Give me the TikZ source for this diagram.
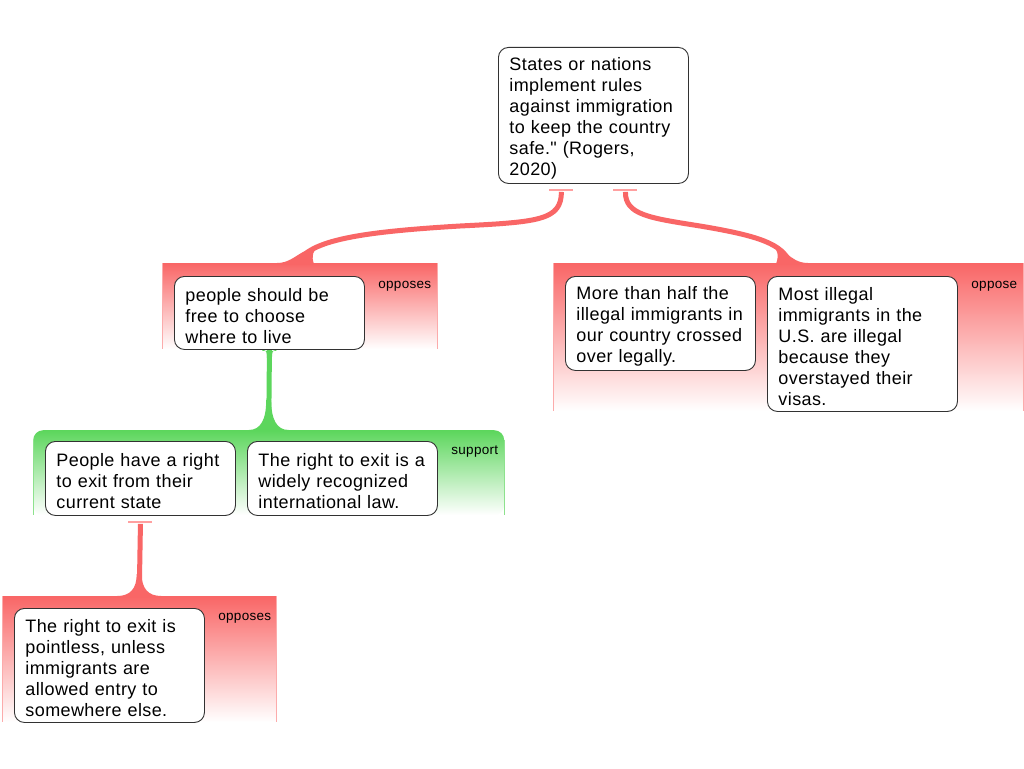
\documentclass[tikz,border=0pt]{standalone}
\usepackage{fontspec}
\setmainfont{Liberation Sans}[LetterSpace=2.2, Ligatures=TeXOff]
\usetikzlibrary{calc}
\pgfdeclarelayer{bg}
\pgfdeclarelayer{con}
\pgfsetlayers{bg,con,main}
\definecolor{redc}{RGB}{249,102,102}
\definecolor{greenc}{RGB}{92,214,92}
\definecolor{stubc}{RGB}{255,160,160}
\definecolor{boxline}{RGB}{50,50,50}
\newcommand\myflare[4]{%
  \fill[#1] ($(#2)+(-#3,1)$) -- ($(#2)+(-#3,0)$)
    .. controls ($(#2)+(-#3*0.4,0)$) and ($(#2)+(-2.5,-#4*0.35)$) .. ($(#2)+(-2.5,-#4)$)
    -- ($(#2)+(2.5,-#4)$)
    .. controls ($(#2)+(2.5,-#4*0.35)$) and ($(#2)+(#3*0.4,0)$) .. ($(#2)+(#3,0)$)
    -- ($(#2)+(#3,1)$) -- cycle;}
\begin{document}
\begin{tikzpicture}[x=1pt,y=-1pt,
  claim/.style={draw=boxline, line width=0.9pt, fill=white, rounded corners=10pt,
    text width=168pt, inner xsep=11pt, inner ysep=4pt, align=left, anchor=north west,
    font=\fontsize{18}{21}\selectfont, text=black,
    execute at begin node={\rule{0pt}{19pt}}},
  grp/.style={anchor=north west, inner sep=0pt, top color=#1, bottom color=white, draw=none},
  side/.style={line width=1pt, draw=#1},
  lbl/.style={anchor=east, inner sep=0pt, font=\fontsize{13.5}{15}\selectfont, text=black},
  stub/.style={draw=stubc, line width=1.5pt},
  conn/.style={draw=#1, line width=5pt}]
\useasboundingbox (0,0) rectangle (1024,768);
% groups
\begin{pgfonlayer}{bg}
\fill[white] (0,0) rectangle (1024,768);
\node[grp=redc, minimum width=275pt, minimum height=86pt] (gL) at (162,263) {};
\node[grp=redc, minimum width=470pt, minimum height=148pt] (gR) at (553,263) {};
\node[grp=greenc, minimum width=471pt, minimum height=85pt, rounded corners=10pt] (gG) at (33,430) {};
\node[grp=redc, minimum width=274pt, minimum height=126pt] (gB) at (2,596) {};
\draw[side=redc!55] (gL.north west) -- (gL.south west) (gL.north east) -- (gL.south east);
\draw[side=redc!55] (gR.north west) -- (gR.south west) (gR.north east) -- (gR.south east);
\draw[side=redc!55] (gB.north west) -- (gB.south west) (gB.north east) -- (gB.south east);
\draw[side=greenc!70] ([yshift=-10pt]gG.north west) -- (gG.south west) ([yshift=-10pt]gG.north east) -- (gG.south east);
\end{pgfonlayer}
% labels
\node[lbl] (lL) at ([xshift=-6pt,yshift=-23pt]gL.north east) {opposes};
\node[lbl] (lR) at ([xshift=-6pt,yshift=-23pt]gR.north east) {oppose};
\node[lbl] (lG) at ([xshift=-6pt,yshift=-22pt]gG.north east) {support};
\node[lbl] (lB) at ([xshift=-5pt,yshift=-22pt]gB.north east) {opposes};
% claims
\node[claim, minimum height=136pt] (top) at (498,47) {States or nations\\implement rules\\against immigration\\to keep the country\\safe." (Rogers,\\2020)};
\node[claim, minimum height=73pt] (n1) at (174,276) {people should be\\free to choose\\where to live};
\node[claim, minimum height=94pt] (n2) at (565,276) {More than half the\\illegal immigrants in\\our country crossed\\over legally.};
\node[claim, minimum height=135pt] (n3) at (767,276) {Most illegal\\immigrants in the\\U.S. are illegal\\because they\\overstayed their\\visas.};
\node[claim, minimum height=74pt] (n4) at (45,441) {People have a right\\to exit from their\\current state};
\node[claim, minimum height=74pt] (n5) at (247,441) {The right to exit is a\\widely recognized\\international law.};
\node[claim, minimum height=114pt] (n6) at (14,608) {The right to exit is\\pointless, unless\\immigrants are\\allowed entry to\\somewhere else.};
% stubs
\coordinate (s1) at ([xshift=-32pt,yshift=-6pt]top.south);
\coordinate (s2) at ([xshift=32pt,yshift=-6pt]top.south);
\coordinate (s3) at ([yshift=-6pt]n4.south);
\coordinate (e1) at ([xshift=-2.5pt]gL.north);
\coordinate (e2) at ([xshift=2pt]gR.north);
\draw[stub] ([xshift=-12pt]s1) -- ([xshift=12pt]s1);
\draw[stub] ([xshift=-12pt]s2) -- ([xshift=12pt]s2);
\draw[stub] ([xshift=-12pt]s3) -- ([xshift=12pt]s3);
% connectors
\begin{pgfonlayer}{con}
\draw[conn=redc] ([yshift=-2pt]s1) .. controls (561,220) and (540,222) .. (460,226)
   .. controls (360,232) and (310,240) .. (e1);
\fill[redc] (277,264) -- (277,263) .. controls (288,263) and (294,257) .. (303,252)
   -- (319,246) .. controls (313,250) and (311,256) .. (314,264) -- cycle;
\draw[conn=redc] ([yshift=-2pt]s2) .. controls (625,215) and (650,218) .. (700,226)
   .. controls (760,236) and (782,244) .. (e2);
\fill[redc] (808,264) -- (808,263) .. controls (798,263) and (792,258) .. (787,254)
   -- (772,245) .. controls (778,249) and (779,256) .. (776,264) -- cycle;
\draw[conn=greenc] (n1.south) -- (gG.north);
\myflare{greenc}{gG.north}{20}{30}
\myflare{greenc}{n1.south}{7}{-8}
\draw[conn=redc] ([yshift=-2pt]s3) -- (gB.north);
\myflare{redc}{gB.north}{22}{22}
\end{pgfonlayer}
\end{tikzpicture}
\end{document}
